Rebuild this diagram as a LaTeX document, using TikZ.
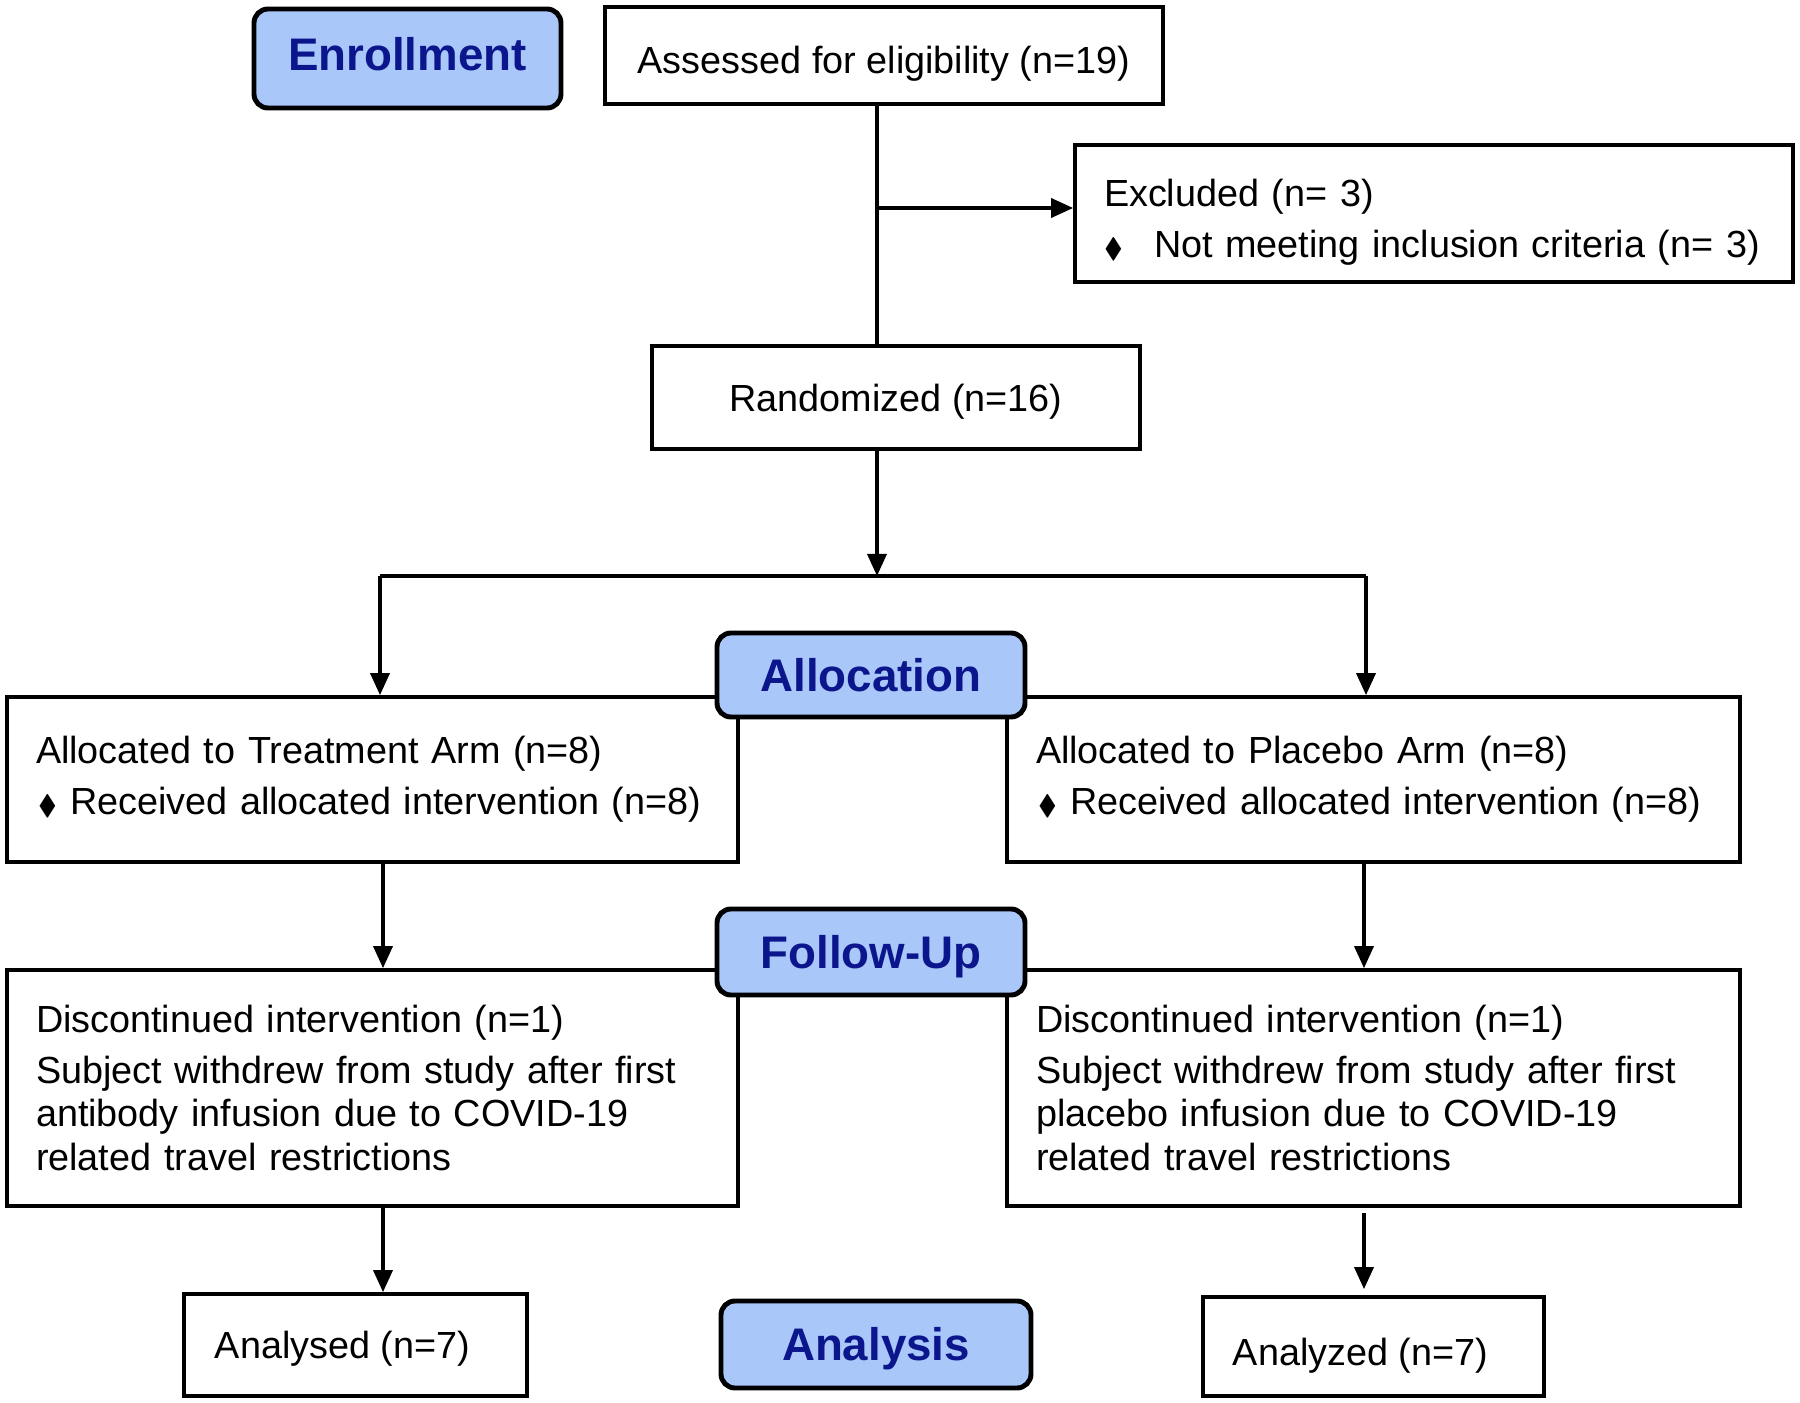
\documentclass[tikz,border=0pt]{standalone}
\usepackage{amssymb}
\usepackage{fontspec}
\setmainfont{Liberation Sans}
\usetikzlibrary{arrows.meta}
\definecolor{hdrfill}{RGB}{170,199,250}
\definecolor{hdrtext}{RGB}{12,22,140}
\newcommand{\dia}{{\footnotesize$\blacklozenge$}}
\begin{document}
\begin{tikzpicture}[x=1cm,y=1cm,
  box/.style={draw=black,line width=1.05pt,fill=white,inner sep=0pt,font=\fontsize{10.75}{13.5}\selectfont},
  cbox/.style={box,text height=7.7pt,text depth=0pt},
  lbox/.style={box,align=left,inner xsep=0.29cm},
  hdr/.style={draw=black,line width=1.4pt,fill=hdrfill,rounded corners=0.14cm,text=hdrtext,font=\fontsize{13}{15}\selectfont\bfseries,inner sep=0pt,text height=9.3pt,text depth=0pt},
  conn/.style={line width=1pt,draw=black},
  arr/.style={conn,-{Triangle[length=0.22cm,width=0.19cm]}}]
\useasboundingbox (0,0) rectangle (18,-14.03);
\fill[white] (0,0) rectangle (18,-14.03);
% boxes
\node[cbox,minimum width=5.58cm,minimum height=0.97cm,text depth=0.08cm] (assess) at (8.84,-0.555) {\raisebox{-0.08cm}{Assessed for eligibility (n=19)}};
\node[lbox,text width=6.60cm,minimum height=1.37cm] (excl) at (14.34,-2.135) {\rule{0pt}{12.5pt}Excluded (n= 3)\\[1pt]\mbox{\makebox[0.50cm][l]{\dia}Not meeting inclusion criteria (n= 3)}};
\node[cbox,minimum width=4.88cm,minimum height=1.03cm] (rand) at (8.96,-3.975) {Randomized (n=16)};
\node[lbox,text width=6.73cm,minimum height=1.65cm] (talloc) at (3.725,-7.795) {Allocated to Treatment Arm (n=8)\\[1pt]\mbox{\makebox[0.34cm][l]{\hspace{0.02cm}\dia}Received allocated intervention (n=8)}};
\node[lbox,text width=6.75cm,minimum height=1.65cm] (palloc) at (13.735,-7.795) {Allocated to Placebo Arm (n=8)\\[1pt]\mbox{\makebox[0.34cm][l]{\hspace{0.02cm}\dia}Received allocated intervention (n=8)}};
\node[lbox,text width=6.73cm,minimum height=2.36cm] (tdisc) at (3.725,-10.88) {Discontinued intervention (n=1)\\[1pt]\mbox{Subject withdrew from study after first}\\[-1pt]antibody infusion due to COVID-19\\[-1pt]related travel restrictions};
\node[lbox,text width=6.75cm,minimum height=2.36cm] (pdisc) at (13.735,-10.88) {Discontinued intervention (n=1)\\[1pt]\mbox{Subject withdrew from study after first}\\[-1pt]placebo infusion due to COVID-19\\[-1pt]related travel restrictions};
\node[cbox,minimum width=3.43cm,minimum height=1.02cm] (tana) at (3.555,-13.45) {\hspace{-0.26cm}Analysed (n=7)};
\node[cbox,minimum width=3.41cm,minimum height=0.99cm] (pana) at (13.735,-13.465) {\hspace{-0.26cm}\raisebox{-0.05cm}{Analyzed (n=7)}};
% headers
\node[hdr,minimum width=3.07cm,minimum height=0.99cm,text depth=0.09cm] (enroll) at (4.075,-0.585) {Enrollment};
\node[hdr,minimum width=3.08cm,minimum height=0.84cm] (alloc) at (8.71,-6.75) {Allocation};
\node[hdr,minimum width=3.08cm,minimum height=0.86cm] (follow) at (8.71,-9.52) {Follow-Up};
\node[hdr,minimum width=3.10cm,minimum height=0.87cm] (analysis) at (8.76,-13.445) {Analysis};
% connectors
\coordinate (top) at (8.77,-1.04);
\coordinate (exsplit) at (8.77,-2.08);
\coordinate (split) at (8.77,-5.76);
\coordinate (bl) at (3.80,-5.76);
\coordinate (br) at (13.66,-5.76);
\coordinate (fl) at (3.83,0);
\coordinate (fr) at (13.64,0);
\draw[conn] (top) -- (top |- rand.north);
\draw[arr] (exsplit) -- (exsplit -| excl.west);
\draw[arr] (split |- rand.south) -- (split);
\draw[conn] (bl) -- (br);
\draw[arr] (bl) -- (bl |- talloc.north);
\draw[arr] (br) -- (br |- palloc.north);
\draw[arr] (fl |- talloc.south) -- (fl |- tdisc.north);
\draw[arr] (fr |- palloc.south) -- (fr |- pdisc.north);
\draw[arr] (fl |- tdisc.south) -- (fl |- tana.north);
\draw[arr] ([yshift=-0.05cm]fr |- pdisc.south) -- ([yshift=0.06cm]fr |- pana.north);
\end{tikzpicture}
\end{document}
